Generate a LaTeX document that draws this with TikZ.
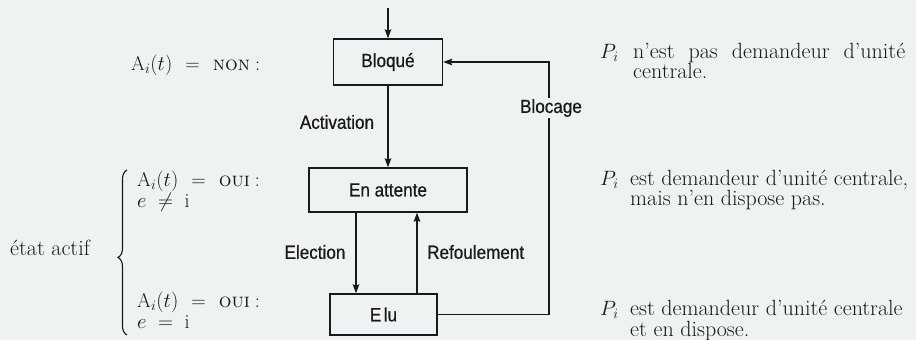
\documentclass[tikz,border=0pt]{standalone}
\usepackage{fontspec}
\usetikzlibrary{arrows.meta,decorations.pathreplacing}
\newfontfamily\condsans[FakeStretch=0.9,FakeBold=0.6]{Liberation Sans}
\definecolor{paper}{RGB}{238,242,242}
\definecolor{ink}{RGB}{25,25,25}
\newcommand{\eqgap}{\hspace{13pt}}
\begin{document}
\begin{tikzpicture}[x=1pt,y=-1pt,
  every node/.style={text=ink},
  box/.style={draw=ink,line width=1.3pt,rectangle,inner sep=0pt,font=\condsans\fontsize{19}{22}\selectfont},
  lab/.style={font=\condsans\fontsize{19}{22}\selectfont,inner sep=1pt},
  conn/.style={draw=ink,line width=1.6pt,-{Stealth[length=9pt,width=6.5pt,inset=1.5pt]}},
  txt/.style={anchor=base west,inner sep=0pt,font=\fontsize{22}{24}\selectfont},
  ltxt/.style={anchor=base west,inner sep=0pt,font=\fontsize{20}{22}\selectfont}]
\fill[paper] (0,0) rectangle (916,340);
\useasboundingbox (0,0) rectangle (916,340);
% boxes
\node[box,minimum width=109pt,minimum height=46pt] (bloque) at (388,62) {Bloqué};
\node[box,minimum width=158pt,minimum height=44pt] (attente) at (388,190) {En attente};
\node[box,minimum width=107pt,minimum height=41pt] (elu) at (383.5,314.5) {E\kern2.5pt lu};
% helper coordinates
\coordinate (entry) at (388,8);
\coordinate (ex) at (356,0);
\coordinate (rx) at (417,0);
\coordinate (bx) at (549,0);
% connectors
\draw[conn] (entry) -- (bloque.north);
\draw[conn] (bloque.south) -- (attente.north);
\draw[conn] (ex |- attente.south) -- (ex |- elu.north);
\draw[conn] (rx |- elu.north) -- (rx |- attente.south);
\draw[conn] (elu.east) -- (bx |- elu.east) -- (bx |- bloque.east) -- (bloque.east);
% labels
\node[lab] (lact) at (337,122) {Activation};
\node[lab] (lele) at (315,252) {Election};
\node[lab,anchor=west] (lref) at (426,252) {Refoulement};
\node[lab,fill=paper] (lblo) at (551,108) {Blocage};
% left texts
\node[ltxt] (t1) at (131,70) {$\mathrm{A}_i(t)$\eqgap=\eqgap\textsc{non}\hspace{5pt}:};
\node[ltxt] (t2) at (137,186) {$\mathrm{A}_i(t)$\eqgap=\eqgap\textsc{oui}\hspace{5pt}:};
\node[ltxt] (t3) at (137,207) {$e\;\neq\;\mathrm{i}$};
\node[ltxt] (t4) at (137,307) {$\mathrm{A}_i(t)$\eqgap=\eqgap\textsc{oui}\hspace{5pt}:};
\node[ltxt] (t5) at (137,328) {$e\;=\;\mathrm{i}$};
\node[txt] (etat) at (10,255) {état actif};
\draw[ink,line width=1.1pt,decorate,decoration={brace,amplitude=9pt,aspect=0.47}] (127,335) -- (127,170);
% right texts
\node[txt] (p1) at (600,58) {$P_i$};
\node[txt] (r1) at (633,58) {\makebox[272pt][s]{n'est pas demandeur d'unité}};
\node[txt] (r2) at (633,78) {centrale.};
\node[txt] (p2) at (600,185) {$P_i$};
\node[txt] (r3) at (630,185) {est demandeur d'unité centrale,};
\node[txt] (r4) at (630,205) {mais n'en dispose pas.};
\node[txt] (p3) at (600,315) {$P_i$};
\node[txt] (r5) at (630,315) {est demandeur d'unité centrale};
\node[txt] (r6) at (630,336) {et en dispose.};
\end{tikzpicture}
\end{document}
